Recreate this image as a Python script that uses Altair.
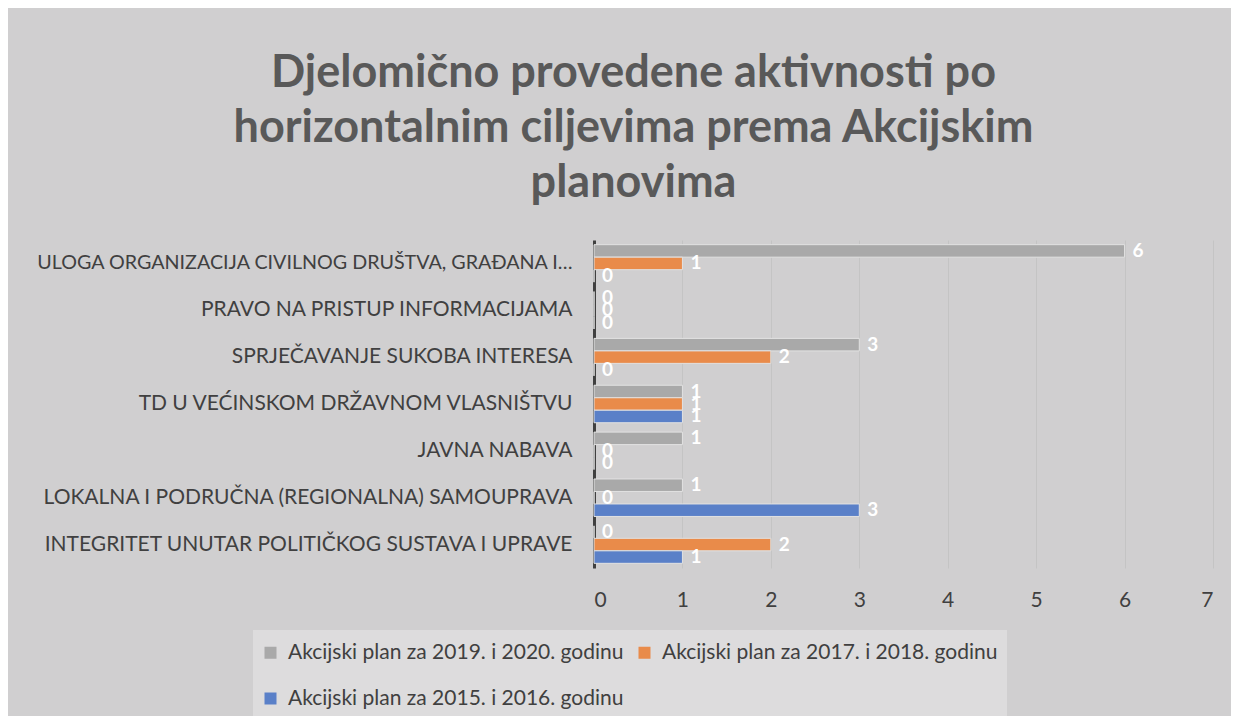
import altair as alt
import pandas as pd

categories = [
    "ULOGA ORGANIZACIJA CIVILNOG DRUŠTVA, GRAĐANA I…",
    "PRAVO NA PRISTUP INFORMACIJAMA",
    "SPRJEČAVANJE SUKOBA INTERESA",
    "TD U VEĆINSKOM DRŽAVNOM VLASNIŠTVU",
    "JAVNA NABAVA",
    "LOKALNA I PODRUČNA (REGIONALNA) SAMOUPRAVA",
    "INTEGRITET UNUTAR POLITIČKOG SUSTAVA I UPRAVE",
]
series = [
    "Akcijski plan za 2019. i 2020. godinu",
    "Akcijski plan za 2017. i 2018. godinu",
    "Akcijski plan za 2015. i 2016. godinu",
]
plan_2019_2020 = [6, 0, 3, 1, 1, 1, 0]
plan_2017_2018 = [1, 0, 2, 1, 0, 0, 2]
plan_2015_2016 = [0, 0, 0, 1, 0, 3, 1]
colors = ["#a9a9a9", "#e98b4a", "#5a80c8"]
x_ticks = [0, 1, 2, 3, 4, 5, 6, 7]

rows = []
for s, vals in zip(series, [plan_2019_2020, plan_2017_2018, plan_2015_2016]):
    for c, v in zip(categories, vals):
        rows.append({"category": c, "series": s, "value": v})
df = pd.DataFrame(rows)

FONT = "Lato"
TXT = "#404040"

y_enc = alt.Y("category:N", sort=categories,
              scale=alt.Scale(paddingInner=0.2, paddingOuter=0.1),
              axis=alt.Axis(title=None,
                            labelFontSize=alt.condition(
                                "datum.index == 0", alt.value(19.7), alt.value(21)),
                            labelColor=TXT, labelFont=FONT,
                            labelLimit=0, ticks=False, domainColor="#404040", domainWidth=3,
                            labelPadding=22))
yoff = alt.YOffset("series:N", sort=series, scale=alt.Scale(paddingInner=0, paddingOuter=0))
x_enc = alt.X("value:Q", scale=alt.Scale(domain=[0, 7], nice=False),
              axis=alt.Axis(title=None, values=x_ticks, format="d", labelFontSize=21,
                            labelColor=TXT, labelFont=FONT, domain=False, ticks=False,
                            labelPadding=21, gridColor="#c4c4c4", gridWidth=1))

legend_bg = alt.Chart(pd.DataFrame({"a": [0]})).mark_rect(
    color="#dddcdd", clip=False).encode(
    x=alt.value(-341), x2=alt.value(413), y=alt.value(390), y2=alt.value(476))

bars = alt.Chart(df).mark_bar(stroke="#e2e2e2", strokeWidth=1, opacity=1).encode(
    y=y_enc, yOffset=yoff, x=x_enc,
    color=alt.Color("series:N", sort=series,
                    scale=alt.Scale(domain=series, range=colors),
                    legend=alt.Legend(title=None, orient="none", legendX=-345, legendY=391,
                                      padding=11, direction="horizontal", columns=2,
                                      symbolType="square", symbolSize=144,
                                      symbolStrokeWidth=0, labelFontSize=21,
                                      labelColor=TXT, labelFont=FONT, labelLimit=0,
                                      columnPadding=10, rowPadding=24, symbolOffset=0,
                                      labelOffset=7)),
)

labels = alt.Chart(df).mark_text(align="left", baseline="middle", dx=8, fontSize=19,
                                 fontWeight="bold", color="white", font=FONT).encode(
    y=alt.Y("category:N", sort=categories), yOffset=alt.YOffset("series:N", sort=series),
    x=alt.X("value:Q"), text=alt.Text("value:Q", format="d"))

chart = alt.layer(legend_bg, bars, labels).properties(
    width=619, height=328,
    padding={"left": 586, "top": 232, "right": 18, "bottom": 148},
    autosize=alt.AutoSizeParams(type="none"),
    title=alt.TitleParams(
        ["Djelomično provedene aktivnosti po",
         "horizontalnim ciljevima prema Akcijskim",
         "planovima"],
        font=FONT, fontSize=45, fontWeight="bold", color="#595959",
        anchor="middle", frame="group", dx=-270, offset=34, lineHeight=55),
).configure(background="#d0cfd0").configure_view(stroke=None)

chart.save("out.html", embed_options={"renderer": "svg", "actions": False})
